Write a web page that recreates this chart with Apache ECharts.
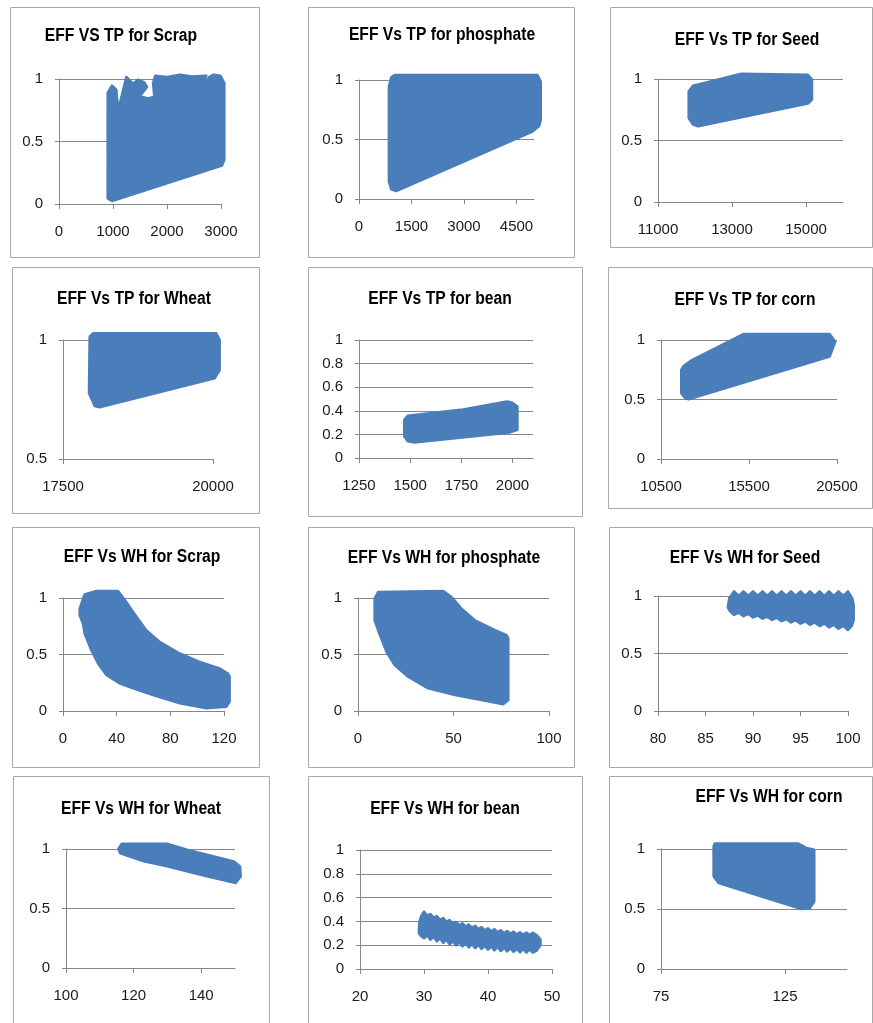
<!DOCTYPE html>
<html><head><meta charset="utf-8">
<script src="https://cdn.jsdelivr.net/npm/echarts@6/dist/echarts.min.js"></script>
<style>html,body{margin:0;padding:0;background:#fff}#c{width:873px;height:1023px}</style>
</head><body><div id="c"></div>
<script>
// ---------- data ----------
const titles = [
  'EFF VS TP for Scrap', 'EFF Vs TP for phosphate', 'EFF Vs TP for Seed',
  'EFF Vs TP for Wheat', 'EFF Vs TP for bean', 'EFF Vs TP for corn',
  'EFF Vs WH for Scrap', 'EFF Vs WH for phosphate', 'EFF Vs WH for Seed',
  'EFF Vs WH for Wheat', 'EFF Vs WH for bean', 'EFF Vs WH for corn'
];
const xRanges = [[0,3000],[0,5000],[11000,16000],[17500,20000],[1250,2100],[10500,20500],
                 [0,120],[0,100],[80,100],[100,150],[20,50],[75,150]];
const xTickLabels = [[0,1000,2000,3000],[0,1500,3000,4500],[11000,13000,15000],[17500,20000],
                     [1250,1500,1750,2000],[10500,15500,20500],[0,40,80,120],[0,50,100],
                     [80,85,90,95,100],[100,120,140],[20,30,40,50],[75,125]];
const yRanges = [[0,1],[0,1],[0,1],[0.5,1],[0,1],[0,1],[0,1],[0,1],[0,1],[0,1],[0,1],[0,1]];
const yIntervals = [0.5,0.5,0.5,0.5,0.2,0.5,0.5,0.5,0.5,0.5,0.2,0.5];

// outlines of the point clouds (x, EFF)
const tpScrap = [[901,0.045],[901,0.727],[901,0.888],[981,0.947],[1062,0.914],[1086,0.786],[1136,0.821],
  [1247,1.016],[1370,0.963],[1463,0.995],[1580,0.973],[1630,0.936],[1494,0.861],[1660,0.845],[1765,0.861],
  [1741,0.968],[1784,1.027],[2000,1.016],[2247,1.035],[2463,1.021],[2728,1.027],[2605,0.893],[2630,0.898],
  [2778,1.016],[2864,1.035],[2988,1.027],[3062,0.968],[3062,0.353],[3019,0.307],[981,0.024]];
const tpPhosphate = [[854,0.146],[921,0.081],[1063,0.067],[4956,0.566],[5146,0.613],[5193,0.664],
  [5193,0.986],[5098,1.042],[1016,1.042],[921,1.022],[854,0.944]];
const tpSeed = [[11829,0.683],[11829,0.9],[11946,0.946],[13252,1.043],[15054,1.035],[15162,0.995],
  [15162,0.832],[15054,0.80],[12081,0.615],[11946,0.629]];
const tpWheat = [[17933,0.776],[17944,1.014],[18000,1.028],[20056,1.028],[20111,1.0],[20111,0.874],
  [20028,0.839],[18111,0.717],[18028,0.723]];
const tpBean = [[1471,0.324],[1488,0.358],[1746,0.408],[1972,0.479],[1997,0.470],[2024,0.437],
  [2024,0.239],[1988,0.217],[1520,0.132],[1488,0.141],[1471,0.183]];
const tpCorn = [[11651,0.552],[11877,0.510],[12066,0.501],[20085,0.860],[20406,0.986],[20085,1.050],
  [15179,1.050],[12255,0.832],[11783,0.782],[11651,0.748]];
const whScrap = [[12.4,0.906],[16.1,1.032],[24.8,1.062],[41.0,1.062],[47.2,0.965],[52.2,0.876],[62.1,0.715],
  [72.0,0.612],[87.0,0.509],[101.9,0.435],[116.8,0.376],[123.0,0.332],[124.2,0.303],[124.2,0.082],
  [121.7,0.038],[106.8,0.024],[87.0,0.068],[67.1,0.141],[52.2,0.200],[42.2,0.244],[32.3,0.318],
  [26.1,0.421],[21.1,0.538],[16.1,0.685],[14.9,0.774],[12.4,0.847]];
const whPhosphate = [[8.7,0.803],[8.7,0.994],[10.5,1.053],[44.6,1.062],[49.0,1.009],[54.2,0.906],
  [61.2,0.803],[71.7,0.715],[77.8,0.671],[78.7,0.641],[78.7,0.097],[76.0,0.059],[64.7,0.097],
  [50.7,0.141],[36.7,0.200],[26.2,0.303],[19.2,0.406],[14.9,0.524],[10.5,0.715]];
const whSeed = [[87.35,0.90],[87.5,0.98],[88,1.04],[88.5,1.0],[89,1.04],[89.5,1.0],[90,1.04],[90.5,1.0],
  [91,1.04],[91.5,1.0],[92,1.04],[92.5,1.0],[93,1.04],[93.5,1.0],[94,1.04],[94.5,1.0],[95,1.04],[95.5,1.0],
  [96,1.04],[96.5,1.0],[97,1.04],[97.5,1.0],[98,1.04],[98.5,1.0],[99,1.04],[99.5,1.0],[100,1.04],
  [100.45,0.98],[100.6,0.92],[100.6,0.79],[100.4,0.74],[100,0.705],[99.5,0.74],[99,0.716],[98.5,0.75],
  [98,0.727],[97.5,0.76],[97,0.738],[96.5,0.77],[96,0.749],[95.5,0.78],[95,0.759],[94.5,0.79],[94,0.770],
  [93.5,0.80],[93,0.781],[92.5,0.81],[92,0.792],[91.5,0.82],[91,0.803],[90.5,0.83],[90,0.814],[89.5,0.845],
  [89,0.825],[88.5,0.855],[88,0.835],[87.55,0.87]];
const whWheat = [[115.5,1.0],[116.5,1.045],[129.9,1.045],[135.8,0.994],[143.8,0.938],[149.7,0.896],
  [151.5,0.854],[151.7,0.77],[150.2,0.714],[139.8,0.784],[129.9,0.854],[123.0,0.896],[118.0,0.944],[116.0,0.966]];
const whBean = [[29.2,0.33],[29.3,0.40],[29.6,0.45],[30,0.482],[30.5,0.45],[31,0.462],[31.5,0.432],[32,0.444],
  [32.5,0.414],[33,0.428],[33.5,0.398],[34,0.411],[34.5,0.382],[35,0.395],[35.5,0.368],[36,0.384],[36.5,0.357],
  [37,0.373],[37.5,0.346],[38,0.363],[38.5,0.336],[39,0.352],[39.5,0.326],[40,0.342],[40.5,0.317],[41,0.334],
  [41.5,0.31],[42,0.326],[42.5,0.302],[43,0.32],[43.5,0.296],[44,0.314],[44.5,0.291],[45,0.309],[45.5,0.287],
  [46,0.306],[46.5,0.285],[47,0.305],[47.6,0.285],[48.2,0.25],[48.2,0.20],[47.6,0.155],[47,0.137],[46.5,0.165],
  [46,0.138],[45.5,0.168],[45,0.14],[44.5,0.17],[44,0.143],[43.5,0.175],[43,0.147],[42.5,0.18],[42,0.151],
  [41.5,0.185],[41,0.156],[40.5,0.19],[40,0.162],[39.5,0.196],[39,0.168],[38.5,0.203],[38,0.175],[37.5,0.21],
  [37,0.182],[36.5,0.218],[36,0.19],[35.5,0.226],[35,0.198],[34.5,0.235],[34,0.208],[33.5,0.246],[33,0.22],
  [32.5,0.258],[32,0.232],[31.5,0.27],[31,0.245],[30.5,0.283],[30,0.258],[29.5,0.28],[29.2,0.30]];
const whCorn = [[96.2,1.022],[96.6,1.045],[130.4,1.045],[133.7,1.008],[136.8,0.994],[136.8,0.563],
  [135.0,0.507],[131.7,0.499],[98.2,0.716],[96.2,0.772]];
const clouds = [tpScrap, tpPhosphate, tpSeed, tpWheat, tpBean, tpCorn,
                whScrap, whPhosphate, whSeed, whWheat, whBean, whCorn];

// ---------- layout ----------
const plotRects = [[59,79,162,125],[359,80,175,119],[658,79,185,123],
                   [63,340,150,119],[359,340,174,118],[661,340,176,119],
                   [63,598,161,113],[358,598,191,113],[658,596,190,115],
                   [66,849,169,119],[360,850,192,119],[661,849,186,120]];
const boxes = [[10,7,249,250],[308,7,266,250],[610,7,262,240],
               [12,267,247,246],[308,267,274,249],[608,267,264,241],
               [12,527,247,240],[308,527,266,240],[609,527,263,240],
               [13,776,256,260],[308,776,274,260],[609,776,263,260]];
const titlePos = [[121,36],[442,35],[747,40],[134,299],[440,299],[745,300],
                  [142,557],[444,558],[745,558],[141,809],[445,809],[769,797]];

const BLUE = '#4a7ebb', GRID = '#878787', BORDER = '#a9a9a9', TXT = '#1a1a1a';
const FONT = "'Liberation Sans',Arial,sans-serif";

const grid = [], xAxis = [], yAxis = [], series = [], graphic = [];
for (let i = 0; i < 12; i++) {
  const r = plotRects[i];
  grid.push({left: r[0], top: r[1], width: r[2], height: r[3]});
  xAxis.push({
    gridIndex: i, type: 'value', min: xRanges[i][0], max: xRanges[i][1],
    axisLine: {show: true, onZero: false, lineStyle: {color: GRID, width: 1}},
    axisTick: {show: true, length: 5, customValues: xTickLabels[i], lineStyle: {color: GRID}},
    axisLabel: {customValues: xTickLabels[i], formatter: v => String(v), margin: 20,
                color: TXT, fontFamily: FONT, fontSize: 15},
    splitLine: {show: false}
  });
  yAxis.push({
    gridIndex: i, type: 'value', min: yRanges[i][0], max: yRanges[i][1], interval: yIntervals[i],
    axisLine: {show: true, onZero: false, lineStyle: {color: GRID, width: 1}},
    axisTick: {show: true, length: 4, lineStyle: {color: GRID}},
    axisLabel: {margin: 16, color: TXT, fontFamily: FONT, fontSize: 15},
    splitLine: {show: true, lineStyle: {color: GRID, width: 1}}
  });
  const pts = clouds[i];
  series.push({
    type: 'custom', xAxisIndex: i, yAxisIndex: i, data: pts, encode: {x: 0, y: 1},
    clip: false, silent: true, animation: false, z: 3,
    renderItem: function (params, api) {
      if (params.dataIndex !== 0) return null;
      return {type: 'polygon', shape: {points: pts.map(p => api.coord(p))},
              style: {fill: BLUE, stroke: BLUE, lineWidth: 2.5, lineJoin: 'round'}};
    }
  });
  const b = boxes[i];
  graphic.push({type: 'rect', silent: true, z: -1,
    shape: {x: b[0] + 0.5, y: b[1] + 0.5, width: b[2], height: b[3]},
    style: {fill: 'none', stroke: BORDER, lineWidth: 1}});
  graphic.push({type: 'text', silent: true, x: titlePos[i][0], y: titlePos[i][1], scaleX: 0.87,
    style: {text: titles[i], x: 0, y: 0, textAlign: 'center',
            textVerticalAlign: 'middle', font: 'bold 18px ' + FONT, fill: '#000'}});
}

const chart = echarts.init(document.getElementById('c'), null, {renderer: 'canvas'});
chart.setOption({animation: false, backgroundColor: '#fff', grid, xAxis, yAxis, series, graphic});
</script></body></html>
